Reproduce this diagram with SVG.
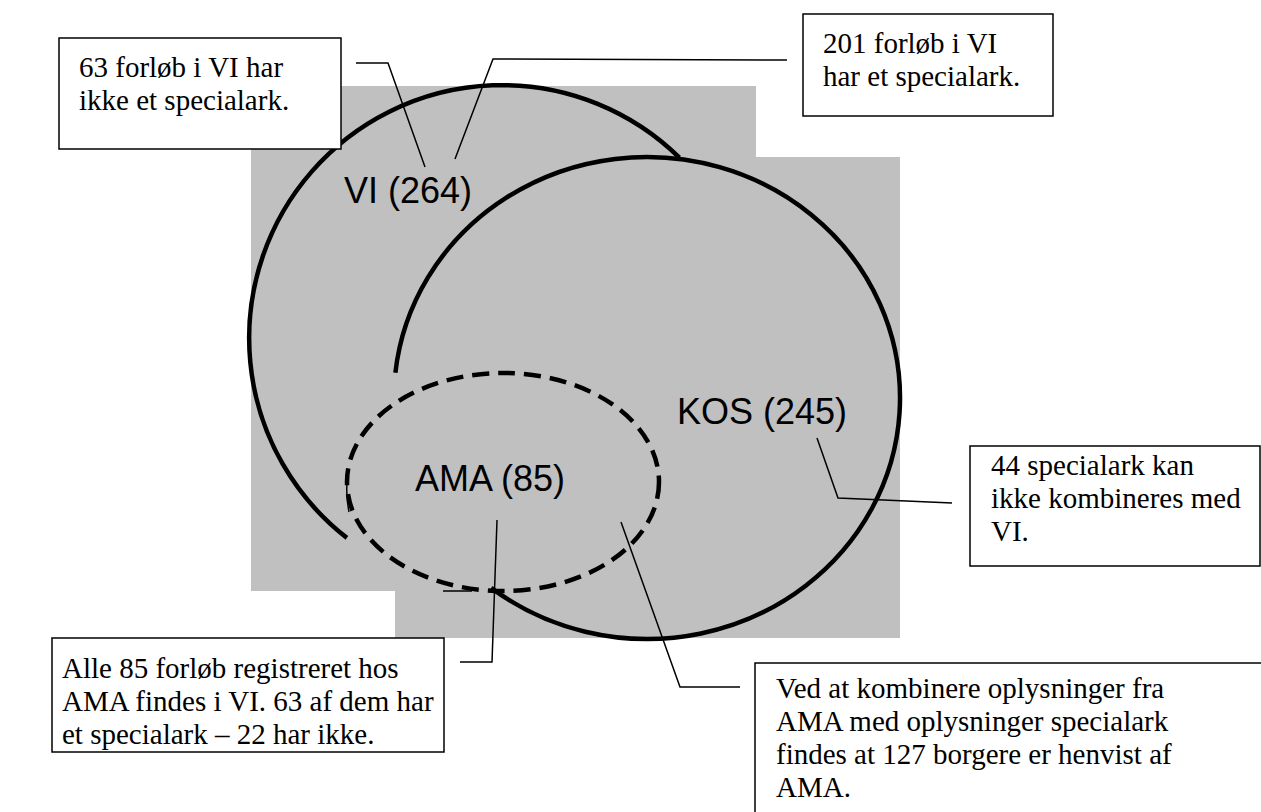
<svg xmlns="http://www.w3.org/2000/svg" width="1261" height="812" viewBox="0 0 1261 812">
<style>
.box{fill:#fff;stroke:#000;stroke-width:1.5}
.bt{font-family:"Liberation Serif","Times New Roman",serif;font-size:29px;fill:#000}
.lbl{font-family:"Liberation Sans",Arial,sans-serif;font-size:36px;fill:#000}
.ring{fill:none;stroke:#000;stroke-width:4.5}
.dash{fill:none;stroke:#000;stroke-width:4.5;stroke-dasharray:17 9}
.con{fill:none;stroke:#000;stroke-width:1.5}
</style>
<rect width="1261" height="812" fill="#fff"/>
<g id="background">
<rect x="251" y="86" width="505" height="505" fill="#c0c0c0"/>
<rect x="395" y="157" width="505" height="481" fill="#c0c0c0"/>
</g>
<g id="VI">
<path class="ring" d="M346.9,537.9 A253,253 0 1 1 679.4,157.6"/>
<text class="lbl" x="344" y="203">VI (264)</text>
</g>
<g id="KOS">
<path class="ring" d="M395.4,372.8 A253,241 0 1 1 491.2,587.9"/>
<line class="con" x1="443" y1="591" x2="472" y2="591"/>
<text class="lbl" x="677" y="424">KOS (245)</text>
</g>
<g id="AMA">
<ellipse class="dash" cx="503" cy="482" rx="156" ry="109"/>
<path class="con" d="M348,474 Q345,492 349,512"/>
<text class="lbl" x="415" y="491">AMA (85)</text>
</g>
<g id="connectors">
<polyline class="con" points="356,63 388,63 425,167"/>
<polyline class="con" points="787,60 493,59 455,159"/>
<polyline class="con" points="817,438 838,498 952,503"/>
<polyline class="con" points="497,520 492,662 460,662"/>
<polyline class="con" points="621,522 680,687 740,687"/>
</g>
<g id="box1">
<rect class="box" x="59" y="38" width="282" height="111"/>
<text class="bt" x="79" y="77">63 forløb i VI har</text>
<text class="bt" x="79" y="110">ikke et specialark.</text>
</g>
<g id="box2">
<rect class="box" x="803" y="14" width="250" height="102"/>
<text class="bt" x="823" y="53">201 forløb i VI</text>
<text class="bt" x="823" y="86">har et specialark.</text>
</g>
<g id="box3">
<rect class="box" x="970" y="446" width="290" height="120"/>
<text class="bt" x="991" y="475">44 specialark kan</text>
<text class="bt" x="991" y="508">ikke kombineres med</text>
<text class="bt" x="991" y="541">VI.</text>
</g>
<g id="box4">
<rect class="box" x="52" y="638" width="392" height="114"/>
<text class="bt" x="62" y="678">Alle 85 forløb registreret hos</text>
<text class="bt" x="62" y="711">AMA findes i VI. 63 af dem har</text>
<text class="bt" x="62" y="744">et specialark – 22 har ikke.</text>
</g>
<g id="box5">
<rect class="box" x="755" y="663" width="520" height="170"/>
<text class="bt" x="776" y="698">Ved at kombinere oplysninger fra</text>
<text class="bt" x="776" y="731">AMA med oplysninger specialark</text>
<text class="bt" x="776" y="764">findes at 127 borgere er henvist af</text>
<text class="bt" x="776" y="797">AMA.</text>
</g>
</svg>
